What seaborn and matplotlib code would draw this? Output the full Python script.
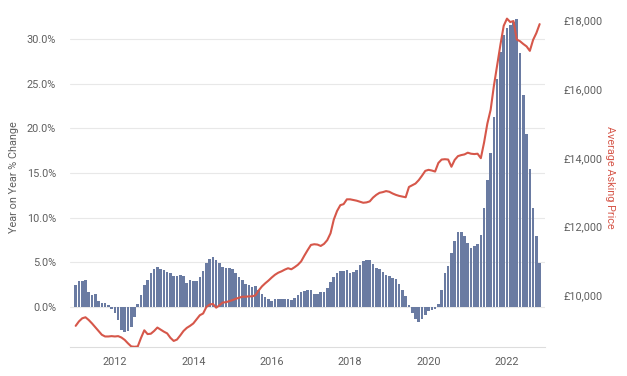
import numpy as np
import pandas as pd
import matplotlib
matplotlib.use("Agg")
import matplotlib.pyplot as plt
from matplotlib.ticker import FuncFormatter, FixedLocator
import seaborn as sns

# monthly series, Jan 2011 .. Nov 2022
yoy_change = [
    2.5, 2.9, 2.9, 3.0, 1.7, 1.3, 1.5, 0.7, 0.4, 0.4, 0.2, -0.2,
    -0.7, -1.5, -2.6, -2.8, -2.7, -2.2, -1.1, 0.3, 1.3, 2.5, 3.0, 3.8,
    4.3, 4.5, 4.3, 4.1, 3.9, 3.8, 3.5, 3.5, 3.6, 3.5, 2.7, 3.0,
    2.9, 2.9, 3.4, 4.0, 4.9, 5.4, 5.6, 5.3, 4.9, 4.5, 4.4, 4.4,
    4.3, 3.8, 3.4, 3.0, 2.6, 2.5, 2.2, 2.3, 1.9, 1.5, 1.1, 0.9,
    0.7, 0.9, 0.9, 0.9, 0.9, 0.9, 0.8, 1.0, 1.3, 1.7, 1.8, 1.9,
    1.9, 1.5, 1.5, 1.7, 1.7, 2.1, 2.8, 3.4, 3.8, 4.0, 4.0, 4.1,
    3.8, 3.9, 4.1, 4.7, 5.1, 5.3, 5.3, 4.8, 4.4, 4.2, 3.9, 3.6,
    3.5, 3.3, 3.1, 2.6, 1.9, 1.2, 0.2, -0.7, -1.3, -1.7, -1.4, -0.9,
    -0.4, -0.3, -0.2, 0.3, 1.9, 3.8, 4.6, 6.0, 7.4, 8.4, 8.4, 7.9,
    7.2, 6.6, 6.8, 7.1, 8.1, 11.1, 14.2, 17.2, 21.3, 25.5, 28.6, 30.4,
    31.2, 31.6, 31.9, 32.2, 28.4, 23.7, 19.4, 15.5, 11.1, 7.9, 4.9,
]

asking_price = [
    9100, 9230, 9320, 9350, 9270, 9170, 9060, 8950, 8840, 8790, 8790, 8800,
    8790, 8800, 8760, 8690, 8590, 8500, 8490, 8500, 8750, 8970, 8860, 8870,
    8950, 9050, 8990, 8930, 8880, 8750, 8660, 8700, 8820, 8950, 9040, 9100,
    9170, 9290, 9410, 9460, 9650, 9720, 9740, 9630, 9700, 9780, 9790, 9820,
    9850, 9890, 9920, 9950, 9950, 9960, 9960, 9990, 10130, 10250, 10340, 10420,
    10510, 10590, 10650, 10690, 10740, 10780, 10750, 10810, 10880, 10980, 11150, 11310,
    11460, 11480, 11470, 11430, 11490, 11600, 11800, 12200, 12450, 12620, 12650, 12790,
    12790, 12770, 12750, 12720, 12690, 12700, 12730, 12840, 12920, 12980, 13000, 13030,
    13010, 12960, 12920, 12890, 12870, 12850, 13150, 13200, 13250, 13350, 13480, 13620,
    13650, 13630, 13600, 13850, 13950, 13960, 13950, 13740, 13940, 14050, 14080, 14100,
    14150, 14120, 14110, 14120, 13990, 14450, 15000, 15400, 16100, 16700, 17300, 17850,
    18060, 17960, 17990, 17450, 17400, 17320, 17250, 17120, 17440, 17640, 17900,
]

year_ticks = [2012, 2014, 2016, 2018, 2020, 2022]
pct_ticks = [0, 5, 10, 15, 20, 25, 30]
price_ticks = [10000, 12000, 14000, 16000, 18000]

df = pd.DataFrame({"yoy": yoy_change, "price": asking_price})
df["t"] = 2011 + np.arange(len(df)) / 12.0

bar_col = "#6a7ba2"
line_col = "#d6574a"
text_col = "#5f5f5f"

sns.set_style("white")
plt.rcParams["font.family"] = ["Roboto", "DejaVu Sans"]

fig = plt.figure(figsize=(6.27, 3.76), dpi=100)
ax = fig.add_axes([70/627, 1-347/376, 475/627, 339/376])

sns.barplot(data=df, x="t", y="yoy", native_scale=True, color=bar_col,
            width=0.8, linewidth=0, saturation=1, ax=ax)
ax.set_xlim(2010.855, 2022.97)
ax.set_ylim(-4.48, 33.47)
ax.yaxis.set_major_locator(FixedLocator(pct_ticks))
ax.yaxis.set_major_formatter(FuncFormatter(lambda v, p: f"{v:.1f}%"))
ax.xaxis.set_major_locator(FixedLocator(year_ticks))
ax.xaxis.set_major_formatter(FuncFormatter(lambda v, p: f"{int(round(v))}"))
ax.grid(axis="y", color="#e8e8e8", linewidth=0.8)
ax.set_axisbelow(True)
for s in ["top", "left", "right"]:
    ax.spines[s].set_visible(False)
ax.spines["bottom"].set_color("#dddddd")
ax.spines["bottom"].set_linewidth(0.8)
ax.tick_params(axis="both", length=0, colors=text_col, labelsize=7.8)
ax.tick_params(axis="y", pad=10)
ax.tick_params(axis="x", pad=7)
ax.set_xlabel("")
ax.set_ylabel("Year on Year % Change", color=text_col, fontsize=7.8)
ax.yaxis.set_label_coords(-0.108, 0.5)

ax2 = ax.twinx()
sns.lineplot(data=df, x="t", y="price", color=line_col, linewidth=1.5, ax=ax2)
ax2.set_ylim(8483, 18370)
ax2.yaxis.set_major_locator(FixedLocator(price_ticks))
ax2.yaxis.set_major_formatter(FuncFormatter(lambda v, p: f"£{v:,.0f}"))
for s in ["top", "left", "right", "bottom"]:
    ax2.spines[s].set_visible(False)
ax2.tick_params(axis="y", length=0, colors=text_col, labelsize=7.8, pad=13)
ax2.set_xlabel("")
ax2.set_ylabel("Average Asking Price", color=line_col, fontsize=7.8, rotation=-90)
ax2.yaxis.set_label_coords(1.147, 0.5)

fig.savefig("out.png", dpi=100)
